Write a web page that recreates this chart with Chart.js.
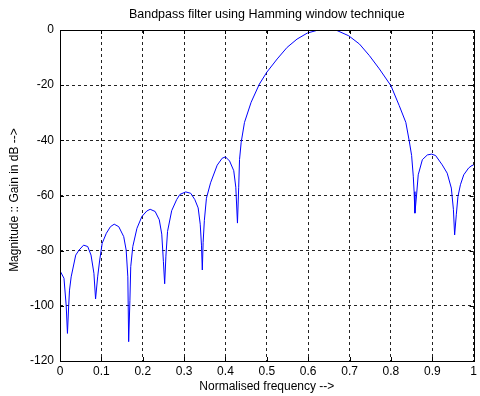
<!DOCTYPE html>
<html>
<head>
<meta charset="utf-8">
<script src="https://cdn.jsdelivr.net/npm/chart.js@4"></script>
<style>
    html, body { margin: 0; padding: 0; background: #fff; }
    #wrap { width: 480px; height: 396px; }
</style>
</head>
<body>
<div id="wrap"><canvas id="chart" width="480" height="396"></canvas></div>
<script>
const chartTitle = "Bandpass filter using Hamming window technique";
const xLabel = "Normalised frequency -->";
const yLabel = "Magnitude :: Gain in dB -->";

const xTicks = [0, 0.1, 0.2, 0.3, 0.4, 0.5, 0.6, 0.7, 0.8, 0.9, 1];
const yTicks = [-120, -100, -80, -60, -40, -20, 0];

const freq = [
    0, 0.0096, 0.015, 0.018, 0.021, 0.023, 0.027, 0.038, 0.046, 0.057,
    0.067, 0.075, 0.082, 0.086, 0.091, 0.096, 0.102, 0.112, 0.122, 0.131,
    0.142, 0.154, 0.16, 0.164, 0.166, 0.169, 0.171, 0.176, 0.186, 0.198,
    0.21, 0.218, 0.23, 0.24, 0.246, 0.25, 0.253, 0.256, 0.26, 0.27,
    0.282, 0.29, 0.304, 0.316, 0.326, 0.334, 0.339, 0.342, 0.344, 0.346,
    0.349, 0.354, 0.364, 0.38, 0.392, 0.4, 0.41, 0.42, 0.425, 0.429,
    0.432, 0.434, 0.438, 0.446, 0.462, 0.482, 0.5, 0.525, 0.549, 0.573,
    0.598, 0.621, 0.645, 0.669, 0.698, 0.724, 0.748, 0.772, 0.8, 0.82,
    0.836, 0.844, 0.85, 0.854, 0.856, 0.858, 0.862, 0.866, 0.876, 0.888,
    0.898, 0.908, 0.924, 0.936, 0.946, 0.951, 0.954, 0.958, 0.962, 0.968,
    0.976, 0.988, 0.996, 1.0
];

const gainDb = [
    -87.3, -90, -100, -110, -100, -94.3, -89.5, -81.6, -79.8, -78,
    -78.5, -81.6, -88.2, -97.5, -89.5, -83.4, -77.3, -73.7, -71.3, -70.4,
    -71.3, -74.9, -79.8, -89.5, -113, -98, -85.8, -78.5, -71.9, -67.6,
    -65.6, -65, -65.8, -68.8, -74, -84, -92, -82, -73, -65.5,
    -61.5, -59.6, -58.7, -59.2, -61.5, -64.5, -70.4, -78, -87, -77,
    -69, -61, -55.4, -49, -46.5, -46, -47.5, -51, -57, -70,
    -57, -47, -40.7, -33.5, -26.2, -19.6, -15.3, -10.5, -6.3, -3.3,
    -1.1, -0.15, 0, -0.15, -2.1, -5.1, -9.3, -14.1, -20.2, -27.4,
    -33.5, -40, -45.5, -53, -58.6, -66.4, -59.8, -52.5, -47, -45.3,
    -45, -45.5, -48.9, -51.9, -57.3, -65, -74.3, -67, -60.4, -56.1,
    -52.5, -50, -49.1, -49
];

const FONT = "Arial, 'Liberation Sans', Helvetica, sans-serif";

// box round the plot, short inward ticks and titles centred on the plot, like matlab
const axesBox = {
    id: "axesBox",
    afterDatasetsDraw(chart) {
        const { ctx, chartArea: a, scales } = chart;
        ctx.save();
        ctx.strokeStyle = "#000";
        ctx.lineWidth = 1;
        ctx.setLineDash([]);
        ctx.strokeRect(Math.round(a.left) + 0.5, Math.round(a.top) + 0.5,
            Math.round(a.right - a.left), Math.round(a.bottom - a.top));
        ctx.beginPath();
        xTicks.forEach((v) => {
            const px = Math.round(scales.x.getPixelForValue(v)) + 0.5;
            ctx.moveTo(px, a.bottom);
            ctx.lineTo(px, a.bottom - 4);
            ctx.moveTo(px, a.top);
            ctx.lineTo(px, a.top + 4);
        });
        yTicks.forEach((v) => {
            const py = Math.round(scales.y.getPixelForValue(v)) + 0.5;
            ctx.moveTo(a.left, py);
            ctx.lineTo(a.left + 4, py);
            ctx.moveTo(a.right, py);
            ctx.lineTo(a.right - 4, py);
        });
        ctx.stroke();

        ctx.fillStyle = "#000";
        ctx.textAlign = "center";
        ctx.textBaseline = "middle";
        ctx.font = "12.5px " + FONT;
        ctx.fillText(chartTitle, (a.left + a.right) / 2, 15);

        ctx.font = "12px " + FONT;
        ctx.translate(15, 200);
        ctx.rotate(-Math.PI / 2);
        ctx.fillText(yLabel, 0, 0);
        ctx.restore();
    },
};

const ctx = document.getElementById("chart").getContext("2d");

new Chart(ctx, {
    type: "line",
    data: {
        datasets: [
            {
                data: freq.map((f, i) => ({ x: f, y: gainDb[i] })),
                borderColor: "#0000ff",
                borderWidth: 1,
                pointRadius: 0,
                tension: 0,
                fill: false,
            },
        ],
    },
    options: {
        responsive: false,
        animation: false,
        layout: { padding: { top: 30, right: 3, bottom: 0, left: 0 } },
        plugins: {
            legend: { display: false },
            tooltip: { enabled: false },
            title: { display: false },
        },
        scales: {
            x: {
                type: "linear",
                min: 0,
                max: 1,
                afterBuildTicks: (scale) => {
                    scale.ticks = xTicks.map((v) => ({ value: v }));
                },
                afterFit: (scale) => {
                    scale.height = 35;
                },
                ticks: {
                    color: "#000",
                    font: { family: FONT, size: 12 },
                    padding: 3,
                    maxRotation: 0,
                    callback: (v) => String(Math.round(v * 10) / 10),
                },
                grid: {
                    color: "#222",
                    lineWidth: 1,
                    drawTicks: false,
                },
                border: { display: false, dash: [3, 3] },
                title: {
                    display: true,
                    text: xLabel,
                    color: "#000",
                    font: { family: FONT, size: 12 },
                    padding: { top: 0, bottom: 1.8 },
                },
            },
            y: {
                type: "linear",
                min: -120,
                max: 0,
                afterBuildTicks: (scale) => {
                    scale.ticks = yTicks.map((v) => ({ value: v }));
                },
                afterFit: (scale) => {
                    scale.width = 60;
                },
                ticks: {
                    color: "#000",
                    font: { family: FONT, size: 12 },
                    padding: 6,
                    callback: (v) => String(v),
                },
                grid: {
                    color: "#222",
                    lineWidth: 1,
                    drawTicks: false,
                },
                border: { display: false, dash: [3, 3] },
            },
        },
    },
    plugins: [axesBox],
});
</script>
</body>
</html>
